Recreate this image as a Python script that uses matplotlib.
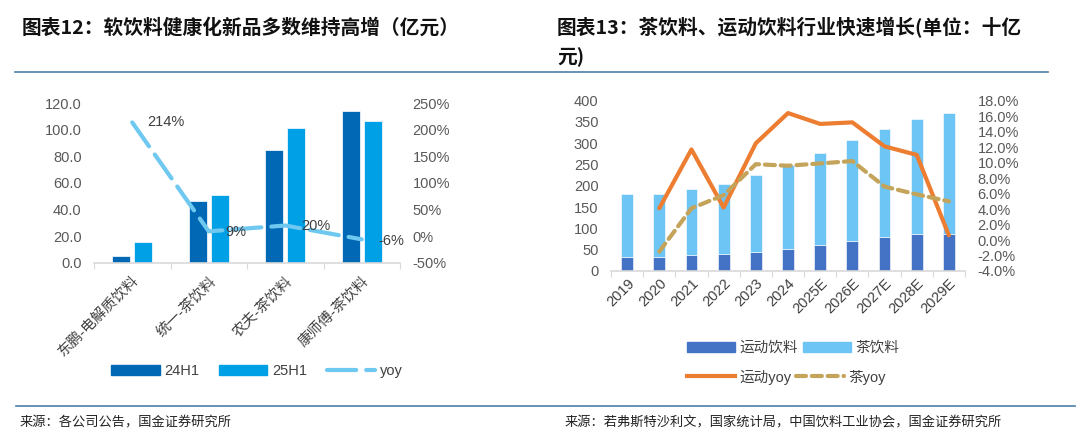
import matplotlib
matplotlib.use("Agg")
import matplotlib.pyplot as plt
import numpy as np
from matplotlib.lines import Line2D
from matplotlib.patches import Patch

plt.rcParams['font.family'] = ['Liberation Sans', 'Noto Sans CJK SC', 'DejaVu Sans']

# left chart data
brands = ["东鹏-电解质饮料", "统一-茶饮料", "农夫-茶饮料", "康师傅-茶饮料"]
sales_24h1 = [5.3, 46.7, 84.9, 114.5]
sales_25h1 = [15.3, 51.0, 101.2, 107.0]
brand_yoy = [214, 9, 20, -6]
brand_yoy_labels = ["214%", "9%", "20%", "-6%"]

# right chart data
years = ["2019", "2020", "2021", "2022", "2023", "2024",
         "2025E", "2026E", "2027E", "2028E", "2029E"]
sports = [32, 34, 38, 40, 45, 52, 61, 70, 79, 88, 88]
total = [182, 182, 193, 204, 225, 250, 277, 308, 333, 358, 372]
tea = [t - s for t, s in zip(total, sports)]
sports_yoy = [None, 4.1, 11.7, 4.2, 12.5, 16.4, 15.0, 15.2, 12.1, 11.0, 0.6]
tea_yoy = [None, -1.5, 4.1, 5.8, 9.8, 9.6, 9.9, 10.2, 6.9, 5.9, 5.0]

W, H = 1080, 438
fig = plt.figure(figsize=(W / 100, H / 100), dpi=100)

def ax_rect(x0, x1, ytop, ybot):
    return [x0 / W, 1 - ybot / H, (x1 - x0) / W, (ybot - ytop) / H]

tick_col = "#595959"
axis_col = "#d9d9d9"
yoy_dash = (7, 2.4)
tea_dash = (2.4, 1.4)

# ---------- left chart ----------
ax1 = fig.add_axes(ax_rect(94, 400, 103.3, 262.7))
x = np.arange(len(brands))
bw = 0.24
ax1.bar(x - 0.144, sales_24h1, bw, color="#0068b4", edgecolor="white", linewidth=0.5)
ax1.bar(x + 0.144, sales_25h1, bw, color="#00a0e6", edgecolor="white", linewidth=0.5)
ax1.set_xlim(-0.5, len(brands) - 0.5)
ax1.set_ylim(0, 120)
ax1.set_yticks(np.arange(0, 121, 20))
ax1.set_yticklabels([f"{v:.1f}" for v in np.arange(0, 121, 20)])
ax1.set_xticks(np.arange(-0.5, len(brands), 1), minor=False)
ax1.set_xticklabels([])
ax1.set_xticks(x, minor=True)
ax1.set_xticklabels(brands, minor=True, rotation=45, ha="right", rotation_mode="anchor",
                    fontsize=10.5, color="#404040")
ax1.tick_params(axis="x", which="minor", length=0, pad=8)
ax1.tick_params(axis="x", which="major", length=4, color=axis_col, direction="out")
ax1.tick_params(axis="y", length=0, labelsize=10.5, labelcolor=tick_col, pad=9)
for s in ["top", "right", "left"]:
    ax1.spines[s].set_visible(False)
ax1.spines["bottom"].set_color(axis_col)
ax1.spines["bottom"].set_linewidth(1.2)

ax1r = ax1.twinx()
ax1r.plot(x, brand_yoy, color="#6ec8f0", linewidth=3, dashes=yoy_dash, dash_capstyle="round")
ax1r.set_ylim(-50, 250)
ax1r.set_yticks(np.arange(-50, 251, 50))
ax1r.set_yticklabels([f"{v}%" for v in range(-50, 251, 50)])
ax1r.tick_params(axis="y", length=0, labelsize=10.5, labelcolor=tick_col, pad=9)
for s in ["top", "right", "left", "bottom"]:
    ax1r.spines[s].set_visible(False)
offsets = [(0.44, 0), (0.35, -1.5), (0.4, -1), (0.39, -3)]
for xi, yv, lab, (dx, dy) in zip(x, brand_yoy, brand_yoy_labels, offsets):
    ax1r.text(xi + dx, yv + dy, lab, fontsize=10.5, color="#404040", ha="center", va="center")

ax1.legend(handles=[Patch(color="#0068b4", label="24H1"),
                    Patch(color="#00a0e6", label="25H1"),
                    Line2D([0], [0], color="#6ec8f0", lw=3, dashes=yoy_dash,
                           dash_capstyle="round", label="yoy")],
           loc="center", bbox_to_anchor=(257 / W, 1 - 371 / H), bbox_transform=fig.transFigure,
           ncol=3, frameon=False, fontsize=10.5, handlelength=3.3, handleheight=0.7,
           columnspacing=1.4, handletextpad=0.3, labelcolor="#404040")

# ---------- right chart ----------
ax2 = fig.add_axes(ax_rect(611, 965, 100.7, 271))
xr = np.arange(len(years))
bw2 = 0.37
ax2.bar(xr, sports, bw2, color="#4472c4", edgecolor="white", linewidth=0.4)
ax2.bar(xr, tea, bw2, bottom=sports, color="#6cc5f5", edgecolor="white", linewidth=0.4)
ax2.set_xlim(-0.5, len(years) - 0.5)
ax2.set_ylim(0, 400)
ax2.set_yticks(np.arange(0, 401, 50))
ax2.set_xticks(np.arange(-0.5, len(years), 1))
ax2.set_xticklabels([])
ax2.set_xticks(xr, minor=True)
ax2.set_xticklabels(years, minor=True, rotation=45, ha="right", rotation_mode="anchor",
                    fontsize=10.5, color="#404040")
ax2.tick_params(axis="x", which="minor", length=0, pad=4)
ax2.tick_params(axis="x", which="major", length=4, color=axis_col)
ax2.tick_params(axis="y", length=0, labelsize=10.5, labelcolor=tick_col, pad=9)
for s in ["top", "right", "left"]:
    ax2.spines[s].set_visible(False)
ax2.spines["bottom"].set_color(axis_col)
ax2.spines["bottom"].set_linewidth(1.2)

ax2r = ax2.twinx()
xs = [i for i, v in enumerate(sports_yoy) if v is not None]
ax2r.plot(xs, [sports_yoy[i] for i in xs], color="#ed7d31", linewidth=3, solid_joinstyle="round",
          solid_capstyle="round")
ax2r.plot(xs, [tea_yoy[i] for i in xs], color="#c4a35a", linewidth=3, dashes=tea_dash,
          dash_capstyle="round")
ax2r.set_ylim(-4, 18)
ax2r.set_yticks(np.arange(-4, 18.1, 2))
ax2r.set_yticklabels([f"{v:.1f}%" for v in np.arange(-4, 18.1, 2)])
ax2r.tick_params(axis="y", length=0, labelsize=10.5, labelcolor=tick_col, pad=9)
for s in ["top", "right", "left", "bottom"]:
    ax2r.spines[s].set_visible(False)

leg_kw = dict(bbox_transform=fig.transFigure, frameon=False, fontsize=10.5, handlelength=3.3,
              handleheight=0.7, columnspacing=0.3, handletextpad=0.3, labelcolor="#404040", ncol=2)
fig.legend(handles=[Patch(color="#4472c4", label="运动饮料"),
                    Patch(color="#6cc5f5", label="茶饮料")],
           loc="center left", bbox_to_anchor=(674 / W, 1 - 348 / H), **leg_kw)
fig.legend(handles=[Line2D([0], [0], color="#ed7d31", lw=3, label="运动yoy"),
                    Line2D([0], [0], color="#c4a35a", lw=3, dashes=tea_dash,
                           dash_capstyle="round", label="茶yoy")],
           loc="center left", bbox_to_anchor=(674 / W, 1 - 377 / H), **leg_kw)

# ---------- titles, rules, sources ----------
title_kw = dict(fontsize=14.2, fontweight="bold", color="#111111", va="center", ha="left",
                family=["Noto Sans CJK SC", "DejaVu Sans"])
fig.text(22 / W, 1 - 28 / H, "图表12：软饮料健康化新品多数维持高增（亿元）", **title_kw)
fig.text(557 / W, 1 - 28 / H, "图表13：茶饮料、运动饮料行业快速增长(单位：十亿", **title_kw)
fig.text(557 / W, 1 - 57 / H, "元)", **title_kw)

fig.add_artist(Line2D([15 / W, 1048 / W], [1 - 72 / H, 1 - 72 / H], color="#4e7fa6", lw=1.2))
fig.add_artist(Line2D([16 / W, 1075 / W], [1 - 406 / H, 1 - 406 / H], color="#4e7fa6", lw=1.2))

src_kw = dict(fontsize=9.5, color="#222222", va="center", ha="left",
              family=["Noto Sans CJK SC", "DejaVu Sans"])
fig.text(20 / W, 1 - 423 / H, "来源：各公司公告，国金证券研究所", **src_kw)
fig.text(565 / W, 1 - 423 / H, "来源：若弗斯特沙利文，国家统计局，中国饮料工业协会，国金证券研究所", **src_kw)

fig.savefig("out.png", dpi=100)
